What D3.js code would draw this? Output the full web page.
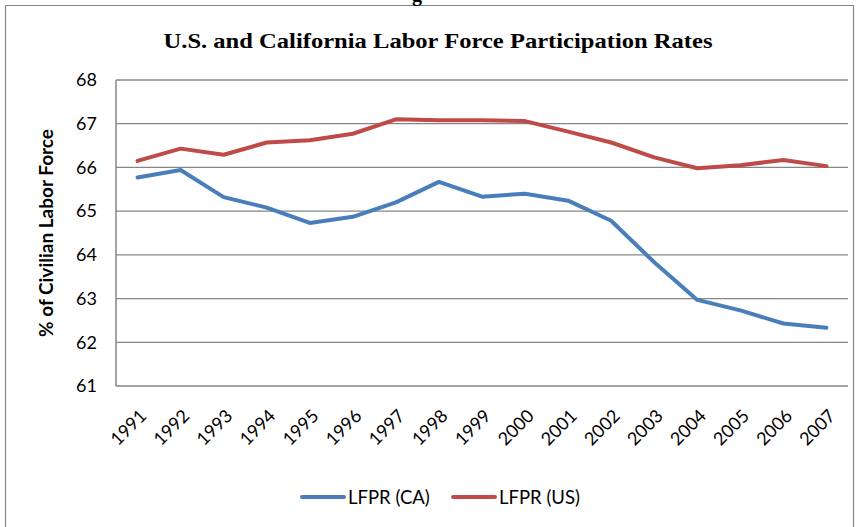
<!DOCTYPE html>
<html>
<head>
<meta charset="utf-8">
<script src="https://cdn.jsdelivr.net/npm/d3@7"></script>
<style>
  html, body { margin: 0; padding: 0; background: #fff; }
  svg { display: block; }
</style>
</head>
<body>
<svg id="chart" width="861" height="527"></svg>
<script>
const years = ["1991","1992","1993","1994","1995","1996","1997","1998","1999","2000","2001","2002","2003","2004","2005","2006","2007"];
const lfprCA = [65.77, 65.94, 65.32, 65.08, 64.73, 64.87, 65.20, 65.67, 65.33, 65.40, 65.24, 64.78, 63.83, 62.97, 62.73, 62.43, 62.33];
const lfprUS = [66.15, 66.43, 66.29, 66.57, 66.62, 66.77, 67.10, 67.08, 67.08, 67.06, 66.82, 66.57, 66.23, 65.98, 66.05, 66.17, 66.03];
const yTicks = [61, 62, 63, 64, 65, 66, 67, 68];
const seriesNames = ["LFPR (CA)", "LFPR (US)"];
const seriesColors = ["#4A7EBB", "#BE4B48"];

const svg = d3.select("#chart");
const margin = { left: 116, right: 13, top: 80, bottom: 141 };
const W = 861, H = 527;
const x0 = margin.left, x1 = W - margin.right;
const y0 = margin.top, y1 = H - margin.bottom;
const sans = "Lato, 'Open Sans', sans-serif";

// outer chart border (partially visible)
svg.append("path")
  .attr("d", `M5.5,${H + 5} V5.5 H853.5 V${H + 5}`)
  .attr("fill", "none").attr("stroke", "#868686").attr("stroke-width", 1.2);

// fragment of caption text above the chart
svg.append("text")
  .attr("x", 417).attr("y", 1)
  .attr("text-anchor", "middle")
  .attr("font-family", "'Liberation Serif', serif")
  .attr("font-size", 20).attr("font-weight", "bold")
  .attr("fill", "#000")
  .text("g");

// title
svg.append("text")
  .attr("x", 438).attr("y", 48)
  .attr("text-anchor", "middle")
  .attr("font-family", "'Liberation Serif', serif")
  .attr("font-size", 22).attr("font-weight", "bold")
  .attr("textLength", 549).attr("lengthAdjust", "spacingAndGlyphs")
  .attr("fill", "#000")
  .text("U.S. and California Labor Force Participation Rates");

const x = d3.scaleBand().domain(years).range([x0, x1]).padding(0);
const y = d3.scaleLinear().domain([61, 68]).range([y1, y0]);

// gridlines
svg.append("g")
  .selectAll("line").data(yTicks).join("line")
  .attr("x1", x0).attr("x2", x1)
  .attr("y1", d => y(d)).attr("y2", d => y(d))
  .attr("stroke", "#868686").attr("stroke-width", 1.3);

// y axis line
svg.append("line")
  .attr("x1", x0).attr("x2", x0).attr("y1", y0).attr("y2", y1)
  .attr("stroke", "#868686").attr("stroke-width", 1.5);

// y axis labels
const yAxis = d3.axisLeft(y).tickValues(yTicks).tickSize(0).tickPadding(19).tickFormat(d3.format("d"));
const gy = svg.append("g").attr("transform", `translate(${x0},0)`).call(yAxis);
gy.select(".domain").remove();
gy.selectAll("text")
  .attr("font-family", sans)
  .attr("font-size", 18).attr("fill", "#000");

// y axis title
svg.append("text")
  .attr("transform", `translate(53,${(y0 + y1) / 2}) rotate(-90)`)
  .attr("text-anchor", "middle")
  .attr("font-family", sans)
  .attr("font-size", 19).attr("font-weight", "bold")
  .attr("fill", "#000")
  .text("% of Civilian Labor Force");

// x axis labels
const xAxis = d3.axisBottom(x).tickSize(0).tickPadding(0);
const gx = svg.append("g").attr("transform", `translate(0,${y1})`).call(xAxis);
gx.select(".domain").remove();
gx.selectAll("text")
  .attr("font-family", sans)
  .attr("font-size", 18).attr("fill", "#000")
  .attr("text-anchor", "end")
  .attr("dy", null)
  .attr("transform", "translate(10,31) rotate(-45)");

// lines
const line = d3.line().x((d, i) => x(years[i]) + x.bandwidth() / 2).y(d => y(d));
[lfprCA, lfprUS].forEach((vals, i) => {
  svg.append("path")
    .datum(vals)
    .attr("d", line)
    .attr("fill", "none")
    .attr("stroke", seriesColors[i])
    .attr("stroke-width", 4)
    .attr("stroke-linejoin", "round")
    .attr("stroke-linecap", "round");
});

// legend
const legendItems = [{ x: 302, name: seriesNames[0], color: seriesColors[0] },
                     { x: 453, name: seriesNames[1], color: seriesColors[1] }];
const lg = svg.append("g");
legendItems.forEach(it => {
  lg.append("line")
    .attr("x1", it.x).attr("x2", it.x + 42).attr("y1", 497).attr("y2", 497)
    .attr("stroke", it.color).attr("stroke-width", 4).attr("stroke-linecap", "round");
  lg.append("text")
    .attr("x", it.x + 46).attr("y", 503.5)
    .attr("font-family", sans)
    .attr("font-size", 18.5).attr("fill", "#000")
    .text(it.name);
});
</script>
</body>
</html>
